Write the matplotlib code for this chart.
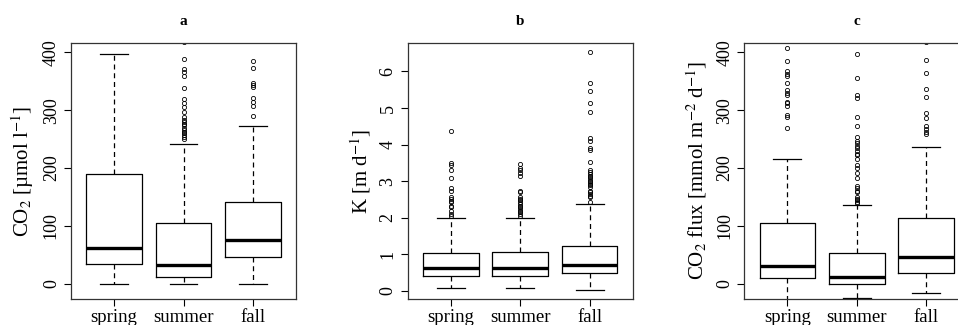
import matplotlib
matplotlib.use("Agg")
import matplotlib.pyplot as plt

plt.rcParams['font.family'] = ['Liberation Serif', 'DejaVu Serif']
plt.rcParams['mathtext.fontset'] = 'stix'

seasons = ['spring', 'summer', 'fall']

# panel a: CO2 [umol/l]
co2_q1 = [35, 12, 45.5]
co2_med = [61, 32, 75]
co2_q3 = [189, 104.5, 141]
co2_lo = [0, 0, 0]
co2_hi = [397, 242, 272]
co2_out = [
    [],
    [418, 389, 371, 366, 360, 339, 320, 313, 305, 297,
     288, 284, 280, 277, 274, 270, 266, 263, 260, 257, 254, 251],
    [385, 374, 348, 344, 340, 321, 314, 308, 290],
]

# panel b: K [m/d]
k_q1 = [0.40, 0.40, 0.47]
k_med = [0.63, 0.61, 0.70]
k_q3 = [1.04, 1.05, 1.22]
k_lo = [0.07, 0.07, 0.02]
k_hi = [1.99, 1.99, 2.37]
k_out = [
    [4.38, 3.49, 3.45, 3.31, 3.09, 2.81, 2.74, 2.56, 2.51, 2.46, 2.42,
     2.33, 2.28, 2.19, 2.10, 2.05],
    [3.47, 3.36, 3.29, 3.21, 3.13, 2.74, 2.69, 2.56, 2.51, 2.47, 2.42,
     2.37, 2.33, 2.28, 2.24, 2.19, 2.15, 2.10, 2.05],
    [6.53, 5.68, 5.46, 5.13, 4.90, 4.17, 4.11, 3.90, 3.84, 3.53, 3.29,
     3.24, 3.20, 3.15, 3.10, 3.06, 3.01, 2.97, 2.92, 2.88, 2.83, 2.74,
     2.69, 2.65, 2.60, 2.56, 2.42],
]

# panel c: CO2 flux [mmol m-2 d-1]
flux_q1 = [9.3, -1, 19]
flux_med = [30.6, 11.6, 46.7]
flux_q3 = [104.5, 53.6, 114]
flux_lo = [-40, -25, -15.6]
flux_hi = [215, 136, 237]
flux_out = [
    [407, 385, 368, 363, 359, 347, 335, 330, 326, 315, 312, 307, 291,
     288, 270],
    [398, 355, 326, 322, 288, 273, 253, 247, 243, 239, 234, 230, 225,
     222, 215, 206, 200, 191, 183, 169, 165, 161, 159, 150, 147, 144,
     142, 140],
    [418, 387, 365, 336, 323, 296, 287, 272, 267, 263, 259],
]


def make_stats(q1, med, q3, lo, hi, out):
    stats = []
    for i in range(len(seasons)):
        stats.append(dict(label=seasons[i], q1=q1[i], med=med[i], q3=q3[i],
                          whislo=lo[i], whishi=hi[i], fliers=out[i]))
    return stats


def draw(ax, stats, title, ylabel, ylim, yticks):
    ax.bxp(stats, positions=[1, 2, 3], widths=0.8, capwidths=0.4,
           boxprops=dict(color='black', linewidth=0.9),
           medianprops=dict(color='black', linewidth=2.4),
           whiskerprops=dict(color='black', linewidth=0.9, linestyle=(0, (4, 3))),
           capprops=dict(color='black', linewidth=0.9),
           flierprops=dict(marker='o', markerfacecolor='none',
                           markeredgecolor='black', markersize=3,
                           markeredgewidth=0.6))
    ax.set_xlim(0.38, 3.62)
    ax.set_ylim(*ylim)
    ax.set_yticks(yticks)
    ax.set_xticks([1, 2, 3])
    ax.set_xticklabels(seasons, fontsize=13.5)
    ax.tick_params(axis='y', labelsize=13, labelrotation=90, length=5, pad=3)
    ax.tick_params(axis='x', length=5, pad=2)
    for lab in ax.get_yticklabels():
        lab.set_va('center')
    for s in ax.spines.values():
        s.set_color('#333333')
        s.set_linewidth(0.9)
    ax.set_title(title, fontweight='bold', fontsize=11, pad=13)
    ax.set_ylabel(ylabel, fontsize=15)
    ax.yaxis.set_label_coords(-0.155, 0.5)


fig = plt.figure(figsize=(9.58, 3.25), dpi=100)
ax1 = fig.add_axes([0.0741, 0.08, 0.2349, 0.7877])
ax2 = fig.add_axes([0.4256, 0.08, 0.2349, 0.7877])
ax3 = fig.add_axes([0.7769, 0.08, 0.2349, 0.7877])

draw(ax1, make_stats(co2_q1, co2_med, co2_q3, co2_lo, co2_hi, co2_out),
     'a', r'CO$_2$ [µmol l$^{-1}$]', (-26.4, 416.4), [0, 100, 200, 300, 400])
draw(ax2, make_stats(k_q1, k_med, k_q3, k_lo, k_hi, k_out),
     'b', r'K [m d$^{-1}$]', (-0.23, 6.78), [0, 1, 2, 3, 4, 5, 6])
draw(ax3, make_stats(flux_q1, flux_med, flux_q3, flux_lo, flux_hi, flux_out),
     'c', r'CO$_2$ flux [mmol m$^{-2}$ d$^{-1}$]', (-26.4, 416.4),
     [0, 100, 200, 300, 400])

fig.savefig('out.png', dpi=100)
